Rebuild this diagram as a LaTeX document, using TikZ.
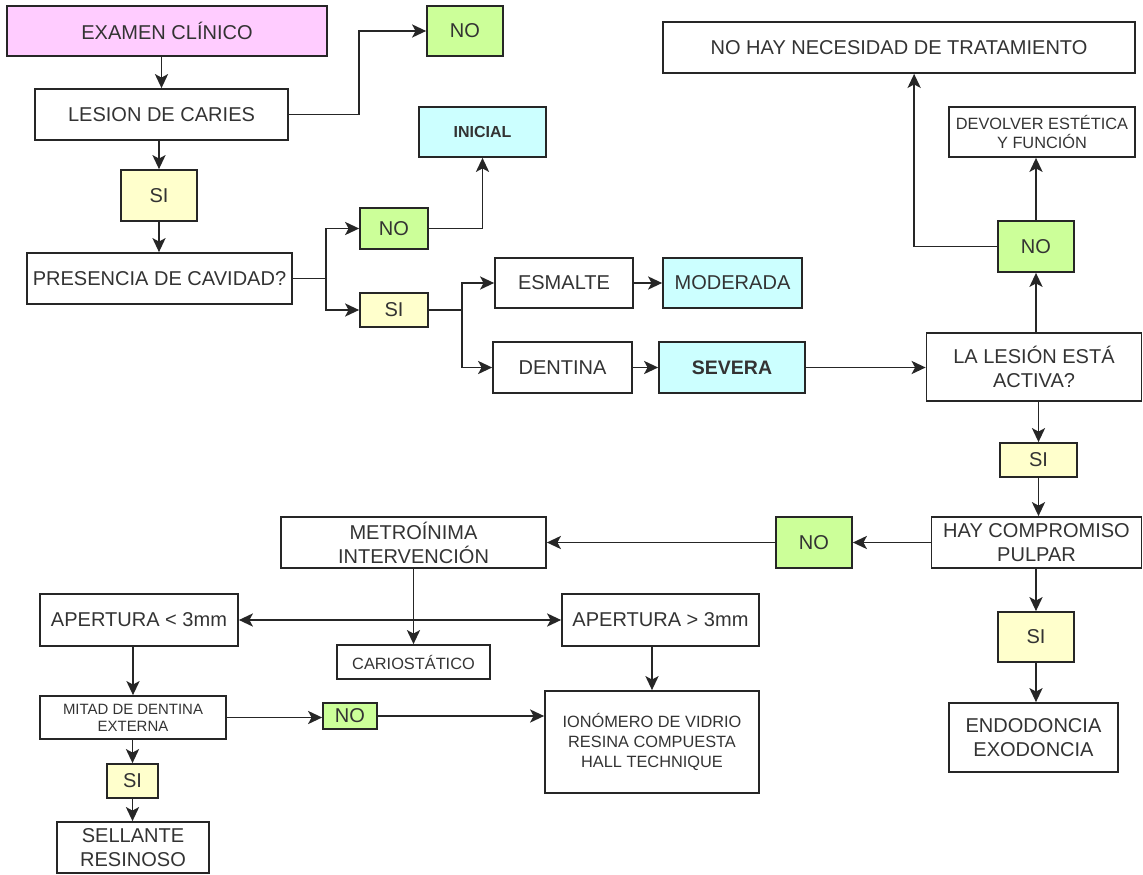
\documentclass[tikz,border=0pt]{standalone}
\usepackage{fontspec}
\setmainfont{Liberation Sans}
\usepackage{tikz}
\usetikzlibrary{arrows.meta}
\definecolor{rosaexam}{HTML}{FFCCFF}
\definecolor{verdeno}{HTML}{CCFF99}
\definecolor{amarillosi}{HTML}{FFFFCC}
\definecolor{celeste}{HTML}{CCFFFF}
\definecolor{tinta}{HTML}{333333}

\begin{document}
\begin{tikzpicture}[x=0.02cm,y=-0.02cm,
  caja/.style={draw=black!85,line width=1pt,inner sep=0pt,align=center,text=tinta,font=\fontsize{11.4}{13.6}\selectfont},
  chica/.style={font=\fontsize{9.3}{11.3}\selectfont},
  tam/.style 2 args={minimum width=#1*0.02cm,minimum height=#2*0.02cm},
  punta/.tip={Stealth[length=8pt,width=7.5pt,inset=2pt]},
  flecha/.style={draw=black!85,line width=1pt,-punta}]
  \useasboundingbox (0,0) rectangle (1143,875);
  \node[caja,tam={320}{50},fill=rosaexam] (exam) at (167,31) {EXAMEN CLÍNICO};
  \node[caja,tam={76}{50},fill=verdeno] (noA) at (465,31) {NO};
  \node[caja,tam={253}{51}] (lesion) at (161.5,114.5) {LESION DE CARIES};
  \node[caja,tam={76}{51},fill=amarillosi] (siA) at (159,195.5) {SI};
  \node[caja,tam={265}{51}] (cavidad) at (159.5,278.5) {PRESENCIA DE CAVIDAD?};
  \node[caja,tam={68}{41},fill=verdeno] (noB) at (394,228.5) {NO};
  \node[caja,tam={68}{34},fill=amarillosi] (siB) at (394,310) {SI};
  \node[caja,tam={127}{50},fill=celeste,font=\fontsize{9.1}{11}\selectfont\bfseries] (inicial) at (482.5,132) {INICIAL};
  \node[caja,tam={138}{50}] (esmalte) at (564,283) {ESMALTE};
  \node[caja,tam={139}{50},fill=celeste] (moderada) at (732.5,283) {MODERADA};
  \node[caja,tam={139}{51}] (dentina) at (562.5,367.5) {DENTINA};
  \node[caja,tam={146}{51},fill=celeste,font=\fontsize{11.1}{13}\selectfont\bfseries] (severa) at (732,367.5) {SEVERA};
  \node[caja,tam={472}{51}] (nohay) at (899,47.5) {NO HAY NECESIDAD DE TRATAMIENTO};
  \node[caja,chica,tam={186}{50}] (devolver) at (1042,132) {DEVOLVER ESTÉTICA\\Y FUNCIÓN};
  \node[caja,tam={76}{51},fill=verdeno] (noC) at (1036,246.5) {NO};
  \node[caja,tam={215}{68}] (activa) at (1034,367) {LA LESIÓN ESTÁ\\ACTIVA?};
  \node[caja,tam={77}{34},fill=amarillosi] (siC) at (1038.5,460) {SI};
  \node[caja,tam={210}{51}] (pulpar) at (1036.5,542.5) {HAY COMPROMISO\\PULPAR};
  \node[caja,tam={76}{51},fill=verdeno] (noD) at (814,542.5) {NO};
  \node[caja,tam={265}{51}] (metro) at (413.5,542.5) {METROÍNIMA\\INTERVENCIÓN};
  \node[caja,tam={198}{52}] (apMenor) at (139,620) {APERTURA < 3mm};
  \node[caja,chica,tam={153}{34}] (cario) at (413.5,662) {CARIOSTÁTICO};
  \node[caja,tam={197}{52}] (apMayor) at (660.5,620) {APERTURA > 3mm};
  \node[caja,tam={186}{43},font=\fontsize{8.5}{9.8}\selectfont] (mitad) at (133,717.5) {MITAD DE DENTINA\\EXTERNA};
  \node[caja,tam={54}{26},fill=verdeno] (noE) at (350,716) {NO};
  \node[caja,chica,tam={214}{102}] (iono) at (652,742) {IONÓMERO DE VIDRIO\\RESINA COMPUESTA\\HALL TECHNIQUE};
  \node[caja,tam={51}{34},fill=amarillosi] (siD) at (132.5,781) {SI};
  \node[caja,tam={152}{51}] (sellante) at (133,847.5) {SELLANTE\\RESINOSO};
  \node[caja,tam={76}{50},fill=amarillosi] (siE) at (1036,637) {SI};
  \node[caja,tam={169}{69}] (endo) at (1033.5,737.5) {ENDODONCIA\\EXODONCIA};
  \draw[flecha] (lesion.north |- exam.south) -- (lesion.north);
  \draw[flecha] (lesion.east) -- ++(70,0) |- (noA.west);
  \draw[flecha] (siA.north |- lesion.south) -- (siA.north);
  \draw[flecha] (siA.south) -- (siA.south |- cavidad.north);
  \draw[flecha] (cavidad.east) -- ++(33,0) |- (noB.west);
  \draw[flecha] (cavidad.east) -- ++(33,0) |- (siB.west);
  \draw[flecha] (noB.east) -| (inicial.south);
  \draw[flecha] (siB.east) -- ++(33,0) |- (esmalte.west);
  \draw[flecha] (siB.east) -- ++(33,0) |- (dentina.west);
  \draw[flecha] (esmalte.east) -- (moderada.west);
  \draw[flecha] (dentina.east) -- (severa.west);
  \draw[flecha] (severa.east) -- (severa.east -| activa.west);
  \draw[flecha] (noC.south |- activa.north) -- (noC.south);
  \draw[flecha] (noC.north) -- (noC.north |- devolver.south);
  \draw[flecha] (noC.west) -- ++(-83,0) coordinate (codo) -- (codo |- nohay.south);
  \draw[flecha] (activa.south -| siC.north) -- (siC.north);
  \draw[flecha] (siC.south) -- (siC.south |- pulpar.north);
  \draw[flecha] (pulpar.west) -- (noD.east);
  \draw[flecha] (noD.west) -- (metro.east);
  \draw[flecha] (metro.south) -- (cario.north);
  \draw[flecha,punta-punta] (apMenor.east) -- (apMayor.west);
  \draw[flecha] (apMenor.south -| mitad.north) -- (mitad.north);
  \draw[flecha] (apMayor.south -| iono.north) -- (iono.north);
  \draw[flecha] (mitad.east) -- (mitad.east -| noE.west);
  \draw[flecha] (noE.east) -- (noE.east -| iono.west);
  \draw[flecha] (mitad.south -| siD.north) -- (siD.north);
  \draw[flecha] (siD.south) -- (siD.south |- sellante.north);
  \draw[flecha] (pulpar.south -| siE.north) -- (siE.north);
  \draw[flecha] (siE.south) -- (siE.south |- endo.north);
\end{tikzpicture}
\end{document}
